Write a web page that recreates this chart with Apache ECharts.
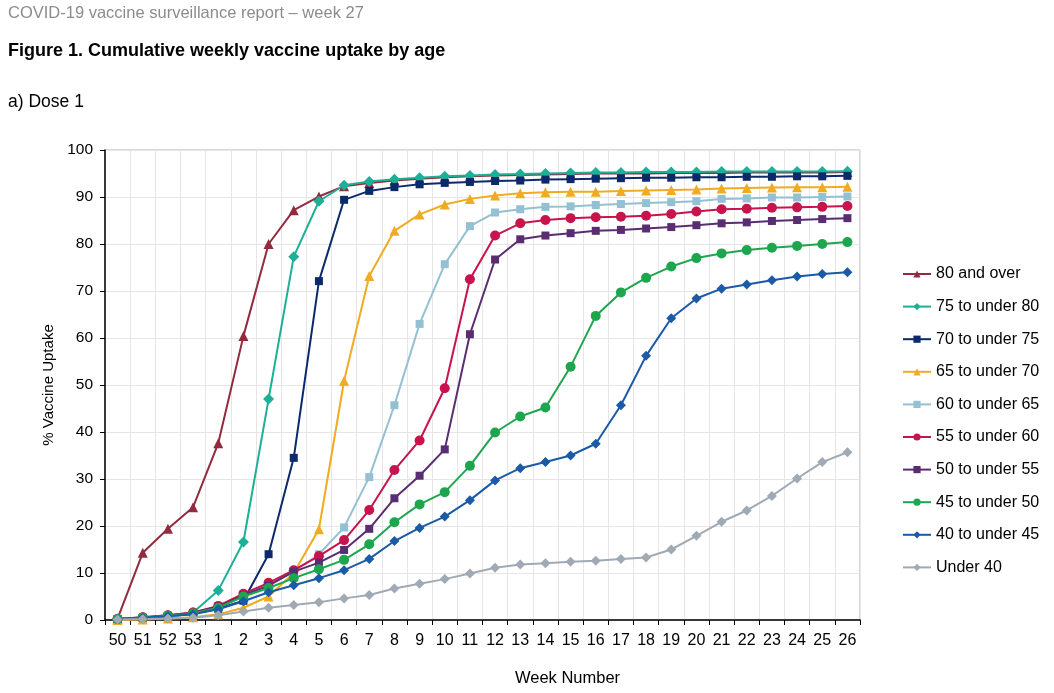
<!DOCTYPE html>
<html>
<head>
<meta charset="utf-8">
<title>Cumulative weekly vaccine uptake by age</title>
<script src="https://cdn.jsdelivr.net/npm/echarts@6/dist/echarts.min.js"></script>
<style>
  html, body { margin: 0; padding: 0; background: #fff; }
  #chart { width: 1054px; height: 693px; }
</style>
</head>
<body>
<div id="chart"></div>
<script>
// week numbers (2020 wk 50 .. 2021 wk 26)
var weeks = ['50', '51', '52', '53', '1', '2', '3', '4', '5', '6', '7', '8', '9', '10', '11',
  '12', '13', '14', '15', '16', '17', '18', '19', '20', '21', '22', '23', '24', '25', '26'];

// % uptake per age group
var age80plus = [0.3, 14.3, 19.4, 24.0, 37.6, 60.4, 80.0, 87.2, 90.1, 92.3, 93.0, 93.5, 93.9, 94.2, 94.4, 94.6, 94.7, 94.8, 94.9, 95.0, 95.0, 95.0, 95.1, 95.1, 95.1, 95.2, 95.2, 95.2, 95.2, 95.3];
var age75to80 = [0.2, 0.6, 1.0, 1.6, 6.3, 16.6, 47.0, 77.3, 89.1, 92.5, 93.3, 93.8, 94.1, 94.4, 94.6, 94.8, 94.9, 95.0, 95.1, 95.2, 95.2, 95.3, 95.3, 95.3, 95.4, 95.4, 95.4, 95.4, 95.4, 95.5];
var age70to75 = [0.1, 0.4, 0.8, 1.3, 2.4, 4.1, 14.0, 34.5, 72.1, 89.4, 91.3, 92.1, 92.7, 93.0, 93.2, 93.4, 93.5, 93.7, 93.8, 93.9, 94.0, 94.1, 94.1, 94.2, 94.2, 94.3, 94.3, 94.4, 94.4, 94.5];
var age65to70 = [0.0, 0.1, 0.3, 0.6, 1.2, 2.6, 5.0, 10.0, 19.3, 50.9, 73.2, 82.8, 86.3, 88.4, 89.6, 90.3, 90.8, 91.0, 91.1, 91.1, 91.3, 91.4, 91.5, 91.6, 91.8, 91.9, 92.0, 92.1, 92.1, 92.2];
var age60to65 = [0.1, 0.4, 0.8, 1.4, 2.8, 5.2, 7.5, 10.3, 14.0, 19.7, 30.4, 45.7, 63.0, 75.7, 83.8, 86.7, 87.4, 87.9, 88.0, 88.3, 88.5, 88.7, 88.9, 89.1, 89.6, 89.7, 89.9, 89.9, 90.0, 90.1];
var age55to60 = [0.2, 0.6, 1.0, 1.6, 3.0, 5.6, 7.9, 10.6, 13.6, 17.0, 23.4, 31.9, 38.2, 49.3, 72.5, 81.8, 84.4, 85.1, 85.5, 85.7, 85.8, 86.0, 86.4, 86.9, 87.4, 87.5, 87.7, 87.8, 87.9, 88.1];
var age50to55 = [0.2, 0.5, 0.9, 1.5, 2.8, 5.3, 7.3, 10.3, 12.2, 14.9, 19.4, 25.9, 30.7, 36.3, 60.8, 76.7, 81.0, 81.8, 82.3, 82.8, 83.0, 83.3, 83.6, 84.0, 84.4, 84.6, 84.9, 85.1, 85.3, 85.5];
var age45to50 = [0.2, 0.5, 0.9, 1.4, 2.6, 5.0, 6.8, 8.9, 10.8, 12.8, 16.1, 20.8, 24.6, 27.2, 32.8, 39.9, 43.3, 45.2, 53.9, 64.7, 69.7, 72.8, 75.2, 77.0, 78.0, 78.7, 79.2, 79.6, 80.0, 80.4];
var age40to45 = [0.2, 0.5, 0.8, 1.2, 2.3, 4.0, 5.9, 7.4, 8.9, 10.6, 13.0, 16.8, 19.6, 22.0, 25.5, 29.7, 32.3, 33.6, 35.0, 37.5, 45.7, 56.2, 64.2, 68.4, 70.5, 71.4, 72.3, 73.1, 73.6, 74.0];
var under40 = [0.1, 0.2, 0.3, 0.5, 1.0, 1.8, 2.6, 3.2, 3.8, 4.6, 5.3, 6.7, 7.7, 8.7, 9.9, 11.1, 11.8, 12.1, 12.4, 12.6, 13.0, 13.3, 15.0, 17.9, 20.9, 23.3, 26.4, 30.1, 33.6, 35.7];

var groups = [
  { name: '80 and over', data: age80plus, color: '#922b3e', symbol: 'triangle', size: 10 },
  { name: '75 to under 80', data: age75to80, color: '#1eb096', symbol: 'diamond', size: 11 },
  { name: '70 to under 75', data: age70to75, color: '#0b2a6b', symbol: 'rect', size: 8 },
  { name: '65 to under 70', data: age65to70, color: '#f0ab22', symbol: 'triangle', size: 10 },
  { name: '60 to under 65', data: age60to65, color: '#93c0d3', symbol: 'rect', size: 8 },
  { name: '55 to under 60', data: age55to60, color: '#c8144c', symbol: 'circle', size: 10 },
  { name: '50 to under 55', data: age50to55, color: '#5a2d72', symbol: 'rect', size: 8 },
  { name: '45 to under 50', data: age45to50, color: '#1ea64e', symbol: 'circle', size: 10 },
  { name: '40 to under 45', data: age40to45, color: '#1a5aa6', symbol: 'diamond', size: 10 },
  { name: 'Under 40', data: under40, color: '#a0aab4', symbol: 'diamond', size: 10 }
];

var font = 'Liberation Sans, Arial, sans-serif';
var myChart = echarts.init(document.getElementById('chart'));

var series = groups.map(function (g) {
  return {
    name: g.name,
    type: 'line',
    data: g.data,
    symbol: g.symbol,
    symbolSize: g.size,
    showAllSymbol: true,
    itemStyle: { color: g.color },
    lineStyle: { color: g.color, width: 2 },
    emphasis: { disabled: true }
  };
});

var option = {
  animation: false,
  backgroundColor: '#fff',
  textStyle: { fontFamily: font },
  title: [
    {
      text: 'COVID-19 vaccine surveillance report – week 27',
      left: 3, top: 0,
      textStyle: { fontFamily: font, fontSize: 16.5, fontWeight: 'normal', color: '#8c8c8c' }
    },
    {
      text: 'Figure 1. Cumulative weekly vaccine uptake by age',
      left: 3, top: 37,
      textStyle: { fontFamily: font, fontSize: 18, fontWeight: 'bold', color: '#000' }
    },
    {
      text: 'a) Dose 1',
      left: 3, top: 88,
      textStyle: { fontFamily: font, fontSize: 17.5, fontWeight: 'normal', color: '#000' }
    }
  ],
  legend: {
    orient: 'vertical',
    left: 897,
    top: 260,
    itemWidth: 28,
    itemHeight: 9,
    itemGap: 14.6,
    textStyle: { fontFamily: font, fontSize: 16, color: '#000', lineHeight: 18 },
    data: groups.map(function (g) { return g.name; })
  },
  grid: {
    left: 105, right: 194, top: 150, bottom: 73,
    show: true, borderColor: '#b0b0b0', borderWidth: 1
  },
  xAxis: {
    type: 'category',
    data: weeks,
    boundaryGap: true,
    name: 'Week Number',
    nameLocation: 'middle',
    nameGap: 50,
    nameTextStyle: { fontFamily: font, fontSize: 16.5, color: '#000', padding: [0, 0, 0, 170] },
    axisLine: { lineStyle: { color: '#000', width: 1.5 } },
    axisTick: { show: true, length: 5, lineStyle: { color: '#000' } },
    axisLabel: { interval: 0, fontFamily: font, fontSize: 16, color: '#000', margin: 13 },
    splitLine: { show: true, interval: 0, lineStyle: { color: '#e6e6e6' } }
  },
  yAxis: {
    type: 'value',
    min: 0, max: 100, interval: 10,
    name: '% Vaccine Uptake',
    nameLocation: 'middle',
    nameGap: 47,
    nameTextStyle: { fontFamily: font, fontSize: 15, color: '#000' },
    axisLine: { show: true, lineStyle: { color: '#000', width: 1.5 } },
    axisTick: { show: true, length: 5, lineStyle: { color: '#000' } },
    axisLabel: { fontFamily: font, fontSize: 15.5, color: '#000', margin: 12 },
    splitLine: { show: true, lineStyle: { color: '#e6e6e6' } }
  },
  series: series
};

myChart.setOption(option);

window.addEventListener('resize', function () {
  myChart.resize();
});
</script>
</body>
</html>
